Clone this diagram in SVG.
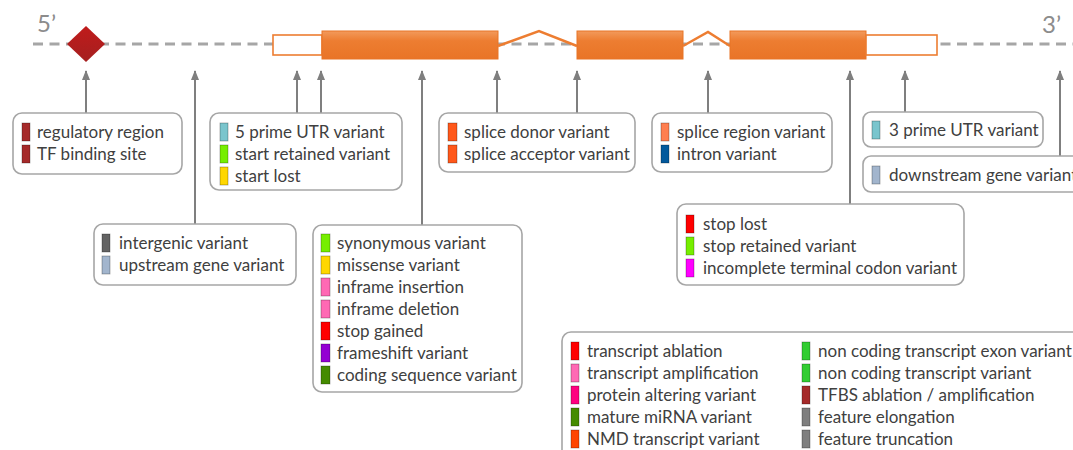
<svg xmlns="http://www.w3.org/2000/svg" width="1073" height="450" viewBox="0 0 1073 450">
<style>
.bg{fill:#ffffff}
.box{fill:#ffffff;stroke:#a6a6a6;stroke-width:1.6}
.t{font-family:Lato,"Open Sans","Liberation Sans",sans-serif;font-size:17px;fill:#404040}
.end{font-family:Lato,"Open Sans","Liberation Sans",sans-serif;font-size:24px;fill:#8c8c8c}
.sw{stroke:rgba(0,0,0,0.35);stroke-width:0.8}
.con{stroke:#7f7f7f;stroke-width:2;fill:none;marker-end:url(#ah)}
.exon{fill:url(#og);stroke:#e87426;stroke-width:1}
.utr{fill:#ffffff;stroke:#ed7d31;stroke-width:1.6}
.intron{fill:none;stroke:#ed7d31;stroke-width:2.5}
</style>
<defs>
<marker id="ah" markerUnits="userSpaceOnUse" markerWidth="10" markerHeight="10" refX="9" refY="4" orient="auto">
<path d="M0,0 L10,4 L0,8 z" fill="#7f7f7f"/>
</marker>
<linearGradient id="og" x1="0" y1="0" x2="0" y2="1">
<stop offset="0" stop-color="#f29a5c"/>
<stop offset="0.35" stop-color="#ed7d31"/>
<stop offset="1" stop-color="#e97427"/>
</linearGradient>
<linearGradient id="rg" x1="0" y1="0" x2="0" y2="1">
<stop offset="0" stop-color="#c01b1b"/>
<stop offset="1" stop-color="#a52020"/>
</linearGradient>
</defs>
<rect class="bg" x="0" y="0" width="1073" height="450"/>

<g id="gene">
<line x1="33" y1="44" x2="1073" y2="44" stroke="#a6a6a6" stroke-width="3" stroke-dasharray="10 6.5"/>
<text class="end" x="37" y="32">5’</text>
<text class="end" x="1042" y="33">3’</text>
<polygon points="86,26 105,44 86,62 67,44" fill="url(#rg)"/>
<rect class="utr" x="273" y="35" width="49" height="20"/>
<rect class="exon" x="322" y="31" width="176" height="28"/>
<polyline class="intron" points="498,46 539,31 577,46"/>
<rect class="exon" x="577" y="31" width="106" height="28"/>
<polyline class="intron" points="683,46 708,32 730,46"/>
<rect class="exon" x="730" y="31" width="136" height="28"/>
<rect class="utr" x="866" y="35" width="71" height="20"/>
</g>

<g id="connectors">
<line class="con" x1="86" y1="113" x2="86" y2="71"/>
<line class="con" x1="195" y1="224" x2="195" y2="71"/>
<line class="con" x1="297" y1="113" x2="297" y2="71"/>
<line class="con" x1="321" y1="113" x2="321" y2="71"/>
<line class="con" x1="422" y1="225" x2="422" y2="71"/>
<line class="con" x1="497" y1="113" x2="497" y2="71"/>
<line class="con" x1="577" y1="113" x2="577" y2="71"/>
<line class="con" x1="708" y1="113" x2="708" y2="71"/>
<line class="con" x1="850" y1="204" x2="850" y2="71"/>
<line class="con" x1="905" y1="112" x2="905" y2="71"/>
<line class="con" x1="1060" y1="156" x2="1060" y2="71"/>
</g>

<g id="regulatory">
<rect class="box" x="13" y="113" width="169" height="61" rx="9"/>
<rect class="sw" x="22" y="123" width="8" height="18" fill="#a52a2a"/>
<rect class="sw" x="22" y="145" width="8" height="18" fill="#a52a2a"/>
<text class="t" x="37" y="138">regulatory region</text>
<text class="t" x="37" y="160">TF binding site</text>
</g>

<g id="utr5">
<rect class="box" x="210" y="113" width="192" height="77" rx="9"/>
<rect class="sw" x="220" y="123" width="8" height="18" fill="#7ac5cd"/>
<rect class="sw" x="220" y="145" width="8" height="18" fill="#76ee00"/>
<rect class="sw" x="220" y="167" width="8" height="18" fill="#ffd700"/>
<text class="t" x="235" y="138">5 prime UTR variant</text>
<text class="t" x="235" y="160">start retained variant</text>
<text class="t" x="235" y="182">start lost</text>
</g>

<g id="intergenic">
<rect class="box" x="94" y="224" width="202" height="61" rx="9"/>
<rect class="sw" x="102" y="234" width="8" height="18" fill="#636363"/>
<rect class="sw" x="102" y="256" width="8" height="18" fill="#a2b5cd"/>
<text class="t" x="119" y="249">intergenic variant</text>
<text class="t" x="119" y="271">upstream gene variant</text>
</g>

<g id="coding">
<rect class="box" x="313" y="225" width="209" height="167" rx="9"/>
<rect class="sw" x="321" y="234" width="9" height="18" fill="#76ee00"/>
<rect class="sw" x="321" y="256" width="9" height="18" fill="#ffd700"/>
<rect class="sw" x="321" y="278" width="9" height="18" fill="#ff69b4"/>
<rect class="sw" x="321" y="300" width="9" height="18" fill="#ff69b4"/>
<rect class="sw" x="321" y="322" width="9" height="18" fill="#ff0000"/>
<rect class="sw" x="321" y="344" width="9" height="18" fill="#9400d3"/>
<rect class="sw" x="321" y="366" width="9" height="18" fill="#458b00"/>
<text class="t" x="337" y="249">synonymous variant</text>
<text class="t" x="337" y="271">missense variant</text>
<text class="t" x="337" y="293">inframe insertion</text>
<text class="t" x="337" y="315">inframe deletion</text>
<text class="t" x="337" y="337">stop gained</text>
<text class="t" x="337" y="359">frameshift variant</text>
<text class="t" x="337" y="381">coding sequence variant</text>
</g>

<g id="splice">
<rect class="box" x="439" y="113" width="196" height="59" rx="9"/>
<rect class="sw" x="448" y="123" width="9" height="18" fill="#ff581a"/>
<rect class="sw" x="448" y="145" width="9" height="18" fill="#ff581a"/>
<text class="t" x="464" y="138">splice donor variant</text>
<text class="t" x="464" y="160">splice acceptor variant</text>
</g>

<g id="spliceregion">
<rect class="box" x="652" y="113" width="180" height="59" rx="9"/>
<rect class="sw" x="661" y="123" width="8" height="18" fill="#ff7f50"/>
<rect class="sw" x="661" y="145" width="8" height="18" fill="#02599c"/>
<text class="t" x="677" y="138">splice region variant</text>
<text class="t" x="677" y="160">intron variant</text>
</g>

<g id="utr3">
<rect class="box" x="863" y="112" width="180" height="35" rx="8"/>
<rect class="sw" x="872" y="121" width="8" height="18" fill="#7ac5cd"/>
<text class="t" x="889" y="136">3 prime UTR variant</text>
</g>

<g id="downstream">
<rect class="box" x="863" y="156" width="230" height="36" rx="8"/>
<rect class="sw" x="872" y="166" width="8" height="18" fill="#a2b5cd"/>
<text class="t" x="889" y="181">downstream gene variant</text>
</g>

<g id="stop">
<rect class="box" x="677" y="204" width="287" height="81" rx="9"/>
<rect class="sw" x="686" y="215" width="8" height="18" fill="#ff0000"/>
<rect class="sw" x="686" y="237" width="8" height="18" fill="#76ee00"/>
<rect class="sw" x="686" y="259" width="8" height="18" fill="#ff00ff"/>
<text class="t" x="703" y="230">stop lost</text>
<text class="t" x="703" y="252">stop retained variant</text>
<text class="t" x="703" y="274">incomplete terminal codon variant</text>
</g>

<g id="legend">
<rect class="box" x="562" y="332" width="540" height="150" rx="9"/>
<rect class="sw" x="571" y="342" width="8" height="18" fill="#ff0000"/>
<rect class="sw" x="571" y="364" width="8" height="18" fill="#ff69b4"/>
<rect class="sw" x="571" y="386" width="8" height="18" fill="#ff0080"/>
<rect class="sw" x="571" y="408" width="8" height="18" fill="#458b00"/>
<rect class="sw" x="571" y="430" width="8" height="18" fill="#ff4500"/>
<text class="t" x="587" y="357">transcript ablation</text>
<text class="t" x="587" y="379">transcript amplification</text>
<text class="t" x="587" y="401">protein altering variant</text>
<text class="t" x="587" y="423">mature miRNA variant</text>
<text class="t" x="587" y="445">NMD transcript variant</text>
<rect class="sw" x="802" y="342" width="8" height="18" fill="#32cd32"/>
<rect class="sw" x="802" y="364" width="8" height="18" fill="#32cd32"/>
<rect class="sw" x="802" y="386" width="8" height="18" fill="#a52a2a"/>
<rect class="sw" x="802" y="408" width="8" height="18" fill="#7f7f7f"/>
<rect class="sw" x="802" y="430" width="8" height="18" fill="#7f7f7f"/>
<text class="t" x="818" y="357">non coding transcript exon variant</text>
<text class="t" x="818" y="379">non coding transcript variant</text>
<text class="t" x="818" y="401">TFBS ablation / amplification</text>
<text class="t" x="818" y="423">feature elongation</text>
<text class="t" x="818" y="445">feature truncation</text>
</g>
</svg>
